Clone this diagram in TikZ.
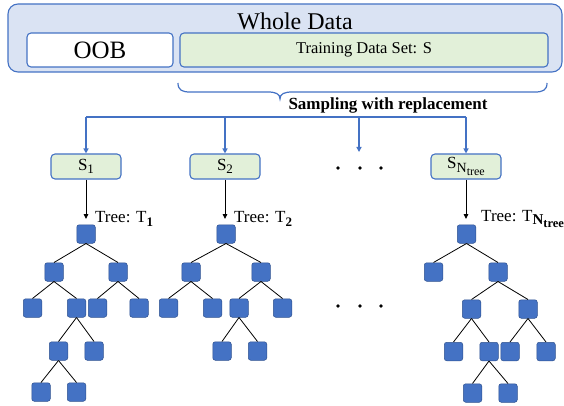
\documentclass[tikz,border=0pt]{standalone}
\usepackage{fontspec}
\setmainfont{Liberation Serif}
\usetikzlibrary{arrows.meta}
\definecolor{outerfill}{HTML}{DAE3F3}
\definecolor{bblue}{HTML}{4472C4}
\definecolor{bdark}{HTML}{2F528F}
\definecolor{gfill}{HTML}{E2F0D9}
\newcommand\mysubA[3]{\raisebox{#1}{\fontsize{#2}{#2}\selectfont #3}}
\tikzset{
  boxline/.style={draw=bblue, line width=1.1pt, inner sep=0pt},
  sbox/.style={boxline, fill=gfill, rounded corners=4pt, minimum width=70pt, minimum height=25pt, font=\fontsize{17}{20}\selectfont},
  tn/.style={rectangle, rounded corners=2.5pt, minimum size=18.5pt, inner sep=0pt, fill=bblue, draw=bdark, line width=0.5pt},
  tedge/.style={draw=black, line width=0.8pt},
  bluearrow/.style={draw=bblue, line width=1.3pt, -{Triangle[length=5pt,width=5pt]}},
  blueline/.style={draw=bblue, line width=1.3pt},
  blackarrow/.style={draw=black, line width=0.9pt, -{Triangle[length=5pt,width=4.5pt]}},
  tlabel/.style={anchor=west, inner sep=0pt, font=\fontsize{17}{20}\selectfont},
}
\begin{document}
\begin{tikzpicture}[x=1pt,y=-1pt]
\useasboundingbox (0,0) rectangle (564,406);
% top boxes
\node[boxline, fill=outerfill, rounded corners=10pt, minimum width=554pt, minimum height=68pt] (whole) at (285,38) {};
\node[font=\fontsize{24}{28}\selectfont, inner sep=0pt] (wtext) at (295,21) {Whole Data};
\node[boxline, fill=white, rounded corners=4pt, minimum width=146pt, minimum height=34pt, font=\fontsize{25}{28}\selectfont] (oob) at (100,50) {OOB};
\node[boxline, fill=gfill, rounded corners=4pt, minimum width=368pt, minimum height=34pt, font=\fontsize{16.5}{20}\selectfont] (train) at (364,50) {Training Data Set: S};
% brace
\draw[blueline, line width=1.2pt] (178,83) .. controls (178,90) and (182,92) .. (190,92) -- (268,92) .. controls (276,92) and (280,94) .. (280,99)
  .. controls (280,94) and (284,92) .. (292,92) -- (535,92) .. controls (543,92) and (547,90) .. (547,83);
\node[font=\bfseries\fontsize{17}{20}\selectfont, inner sep=0pt] (samp) at (388,105) {Sampling with replacement};
% sample boxes
\node[sbox] (s1) at (86,166.5) {S\mysubA{-3.5pt}{13}{1}};
\node[sbox] (s2) at (225,166.5) {S\mysubA{-3.5pt}{13}{2}};
\node[sbox] (sn) at (466,166.5) {S\mysubA{-3.5pt}{14}{N\mysubA{-3pt}{12}{tree}}};
\coordinate (hl) at (86,117);
\coordinate (hr) at (466,117);
\coordinate (dd) at (359,152);
\draw[blueline] (hl) -- (hr);
\draw[bluearrow] (hl) -- (s1.north);
\draw[bluearrow] (s2.north |- hl) -- (s2.north);
\draw[bluearrow] (dd |- hl) -- (dd);
\draw[bluearrow] (hr) -- (sn.north);
% dots
\foreach \x in {338,360,381} {\fill (\x,168) circle (1.8pt); \fill (\x,306) circle (1.8pt);}
% tree arrows and labels
\coordinate (t1) at (86,219);
\coordinate (t2) at (225,219);
\coordinate (tn) at (466,219);
\draw[blackarrow] (s1.south) -- (t1);
\draw[blackarrow] (s2.south) -- (t2);
\draw[blackarrow] (sn.south) -- (tn);
\node[tlabel] (l1) at (95,219) {Tree: T\mysubA{-3.5pt}{13}{\bfseries 1}};
\node[tlabel] (l2) at (234,219) {Tree: T\mysubA{-3.5pt}{13}{\bfseries 2}};
\node[tlabel] (ln) at (481,219) {Tree: T\mysubA{-3.5pt}{15}{\bfseries N\mysubA{-3pt}{12.5}{\bfseries tree}}};
% tree 1
\node[tn] (a0) at (86,234) {};
\node[tn] (a1) at (54,272) {};
\node[tn] (a2) at (118,272) {};
\node[tn] (a3) at (32.5,308) {};
\node[tn] (a4) at (76.5,308) {};
\node[tn] (a5) at (97.5,308) {};
\node[tn] (a6) at (139,308) {};
\node[tn] (a7) at (58.5,351) {};
\node[tn] (a8) at (94,351) {};
\node[tn] (a9) at (41,392) {};
\node[tn] (a10) at (76.5,392) {};
\foreach \p/\c in {a0/a1,a0/a2,a1/a3,a1/a4,a2/a5,a2/a6,a4/a7,a4/a8,a7/a9,a7/a10}
  \draw[tedge] (\p.south) -- (\c.north);
% tree 2
\node[tn] (b0) at (226,234) {};
\node[tn] (b1) at (191,272) {};
\node[tn] (b2) at (261,272) {};
\node[tn] (b3) at (168.5,308) {};
\node[tn] (b4) at (212.5,308) {};
\node[tn] (b5) at (239,308) {};
\node[tn] (b6) at (282.5,308) {};
\node[tn] (b7) at (222,351) {};
\node[tn] (b8) at (257.5,351) {};
\foreach \p/\c in {b0/b1,b0/b2,b1/b3,b1/b4,b2/b5,b2/b6,b5/b7,b5/b8}
  \draw[tedge] (\p.south) -- (\c.north);
% tree N
\node[tn] (c0) at (466.5,234) {};
\node[tn] (c1) at (433.5,272) {};
\node[tn] (c2) at (498,272) {};
\node[tn] (c3) at (471.5,309) {};
\node[tn] (c4) at (528,309) {};
\node[tn] (c5) at (453.5,351.5) {};
\node[tn] (c6) at (489,351.5) {};
\node[tn] (c7) at (510,351.5) {};
\node[tn] (c8) at (546,351.5) {};
\node[tn] (c9) at (472.5,393) {};
\node[tn] (c10) at (508,393) {};
\foreach \p/\c in {c0/c1,c0/c2,c2/c3,c2/c4,c3/c5,c3/c6,c4/c7,c4/c8,c6/c9,c6/c10}
  \draw[tedge] (\p.south) -- (\c.north);
\end{tikzpicture}
\end{document}
